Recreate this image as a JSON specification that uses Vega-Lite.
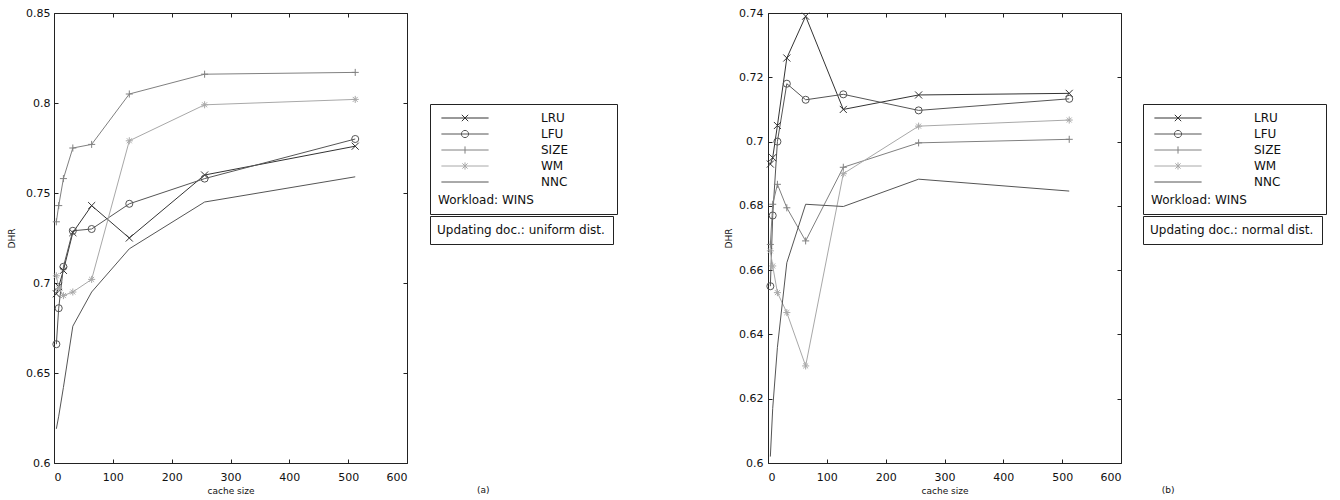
{
  "$schema": "https://vega.github.io/schema/vega-lite/v6.json",
  "padding": {"left": 7, "top": 6, "right": 5, "bottom": 2},
  "background": "white",
  "spacing": 361,
  "bounds": "flush",
  "datasets": {
    "dhr": [
      {"panel": "a", "policy": "LRU", "cache": 4, "dhr": 0.694},
      {"panel": "a", "policy": "LRU", "cache": 8, "dhr": 0.698},
      {"panel": "a", "policy": "LRU", "cache": 16, "dhr": 0.707},
      {"panel": "a", "policy": "LRU", "cache": 32, "dhr": 0.728},
      {"panel": "a", "policy": "LRU", "cache": 64, "dhr": 0.743},
      {"panel": "a", "policy": "LRU", "cache": 128, "dhr": 0.725},
      {"panel": "a", "policy": "LRU", "cache": 256, "dhr": 0.760},
      {"panel": "a", "policy": "LRU", "cache": 512, "dhr": 0.776},
      {"panel": "a", "policy": "LFU", "cache": 4, "dhr": 0.666},
      {"panel": "a", "policy": "LFU", "cache": 8, "dhr": 0.686},
      {"panel": "a", "policy": "LFU", "cache": 16, "dhr": 0.709},
      {"panel": "a", "policy": "LFU", "cache": 32, "dhr": 0.729},
      {"panel": "a", "policy": "LFU", "cache": 64, "dhr": 0.730},
      {"panel": "a", "policy": "LFU", "cache": 128, "dhr": 0.744},
      {"panel": "a", "policy": "LFU", "cache": 256, "dhr": 0.758},
      {"panel": "a", "policy": "LFU", "cache": 512, "dhr": 0.780},
      {"panel": "a", "policy": "SIZE", "cache": 4, "dhr": 0.734},
      {"panel": "a", "policy": "SIZE", "cache": 8, "dhr": 0.743},
      {"panel": "a", "policy": "SIZE", "cache": 16, "dhr": 0.758},
      {"panel": "a", "policy": "SIZE", "cache": 32, "dhr": 0.775},
      {"panel": "a", "policy": "SIZE", "cache": 64, "dhr": 0.777},
      {"panel": "a", "policy": "SIZE", "cache": 128, "dhr": 0.805},
      {"panel": "a", "policy": "SIZE", "cache": 256, "dhr": 0.816},
      {"panel": "a", "policy": "SIZE", "cache": 512, "dhr": 0.817},
      {"panel": "a", "policy": "WM", "cache": 4, "dhr": 0.704},
      {"panel": "a", "policy": "WM", "cache": 8, "dhr": 0.697},
      {"panel": "a", "policy": "WM", "cache": 16, "dhr": 0.693},
      {"panel": "a", "policy": "WM", "cache": 32, "dhr": 0.695},
      {"panel": "a", "policy": "WM", "cache": 64, "dhr": 0.702},
      {"panel": "a", "policy": "WM", "cache": 128, "dhr": 0.779},
      {"panel": "a", "policy": "WM", "cache": 256, "dhr": 0.799},
      {"panel": "a", "policy": "WM", "cache": 512, "dhr": 0.802},
      {"panel": "a", "policy": "NNC", "cache": 4, "dhr": 0.619},
      {"panel": "a", "policy": "NNC", "cache": 8, "dhr": 0.626},
      {"panel": "a", "policy": "NNC", "cache": 16, "dhr": 0.642},
      {"panel": "a", "policy": "NNC", "cache": 32, "dhr": 0.676},
      {"panel": "a", "policy": "NNC", "cache": 64, "dhr": 0.695},
      {"panel": "a", "policy": "NNC", "cache": 128, "dhr": 0.719},
      {"panel": "a", "policy": "NNC", "cache": 256, "dhr": 0.745},
      {"panel": "a", "policy": "NNC", "cache": 512, "dhr": 0.759},
      {"panel": "b", "policy": "LRU", "cache": 4, "dhr": 0.693},
      {"panel": "b", "policy": "LRU", "cache": 8, "dhr": 0.695},
      {"panel": "b", "policy": "LRU", "cache": 16, "dhr": 0.705},
      {"panel": "b", "policy": "LRU", "cache": 32, "dhr": 0.726},
      {"panel": "b", "policy": "LRU", "cache": 64, "dhr": 0.739},
      {"panel": "b", "policy": "LRU", "cache": 128, "dhr": 0.710},
      {"panel": "b", "policy": "LRU", "cache": 256, "dhr": 0.7145},
      {"panel": "b", "policy": "LRU", "cache": 512, "dhr": 0.715},
      {"panel": "b", "policy": "LFU", "cache": 4, "dhr": 0.655},
      {"panel": "b", "policy": "LFU", "cache": 8, "dhr": 0.677},
      {"panel": "b", "policy": "LFU", "cache": 16, "dhr": 0.700},
      {"panel": "b", "policy": "LFU", "cache": 32, "dhr": 0.718},
      {"panel": "b", "policy": "LFU", "cache": 64, "dhr": 0.713},
      {"panel": "b", "policy": "LFU", "cache": 128, "dhr": 0.7147},
      {"panel": "b", "policy": "LFU", "cache": 256, "dhr": 0.7097},
      {"panel": "b", "policy": "LFU", "cache": 512, "dhr": 0.7133},
      {"panel": "b", "policy": "SIZE", "cache": 4, "dhr": 0.668},
      {"panel": "b", "policy": "SIZE", "cache": 8, "dhr": 0.6805},
      {"panel": "b", "policy": "SIZE", "cache": 16, "dhr": 0.6867},
      {"panel": "b", "policy": "SIZE", "cache": 32, "dhr": 0.6794},
      {"panel": "b", "policy": "SIZE", "cache": 64, "dhr": 0.6691},
      {"panel": "b", "policy": "SIZE", "cache": 128, "dhr": 0.692},
      {"panel": "b", "policy": "SIZE", "cache": 256, "dhr": 0.6996},
      {"panel": "b", "policy": "SIZE", "cache": 512, "dhr": 0.7007},
      {"panel": "b", "policy": "WM", "cache": 4, "dhr": 0.666},
      {"panel": "b", "policy": "WM", "cache": 8, "dhr": 0.6613},
      {"panel": "b", "policy": "WM", "cache": 16, "dhr": 0.653},
      {"panel": "b", "policy": "WM", "cache": 32, "dhr": 0.6468},
      {"panel": "b", "policy": "WM", "cache": 64, "dhr": 0.6302},
      {"panel": "b", "policy": "WM", "cache": 128, "dhr": 0.690},
      {"panel": "b", "policy": "WM", "cache": 256, "dhr": 0.7048},
      {"panel": "b", "policy": "WM", "cache": 512, "dhr": 0.7067},
      {"panel": "b", "policy": "NNC", "cache": 4, "dhr": 0.602},
      {"panel": "b", "policy": "NNC", "cache": 8, "dhr": 0.617},
      {"panel": "b", "policy": "NNC", "cache": 16, "dhr": 0.636},
      {"panel": "b", "policy": "NNC", "cache": 32, "dhr": 0.6623},
      {"panel": "b", "policy": "NNC", "cache": 64, "dhr": 0.6805},
      {"panel": "b", "policy": "NNC", "cache": 128, "dhr": 0.6798},
      {"panel": "b", "policy": "NNC", "cache": 256, "dhr": 0.6883},
      {"panel": "b", "policy": "NNC", "cache": 512, "dhr": 0.6846}
    ]
  },
  "config": {
    "view": {"stroke": "#222222", "strokeWidth": 1},
    "font": "DejaVu Sans",
    "axis": {
      "grid": false,
      "domain": false,
      "tickColor": "#222222",
      "tickSize": -4,
      "tickWidth": 1,
      "labelFont": "DejaVu Sans",
      "labelFontSize": 11,
      "labelColor": "#111111",
      "titleFont": "DejaVu Sans",
      "titleFontSize": 9,
      "titleFontWeight": "normal",
      "titleColor": "#111111"
    },
    "legend": {
      "labelFont": "DejaVu Sans",
      "labelFontSize": 12,
      "labelColor": "#111111",
      "labelLimit": 300,
      "titleFont": "DejaVu Sans",
      "titleFontSize": 12,
      "titleFontWeight": "normal",
      "titleColor": "#111111",
      "titleLimit": 300,
      "strokeColor": "#222222",
      "fillColor": "white"
    }
  },
  "hconcat": [
    {
      "width": 353,
      "height": 450,
      "data": {"name": "dhr"},
      "transform": [{"filter": "datum.panel == 'a'"}],
      "title": {"text": "(a)", "orient": "bottom", "anchor": "end", "offset": -9, "dx": -128, "fontSize": 9, "fontWeight": "normal", "font": "DejaVu Sans", "color": "#111111"},
      "layer": [
        {
          "mark": {"type": "line", "strokeWidth": 1},
          "encoding": {
            "x": {"field": "cache", "type": "quantitative", "scale": {"domain": [0, 600]},
                  "axis": {"orient": "bottom", "values": [0, 100, 200, 300, 400, 500, 600], "title": "cache size", "labelPadding": 12, "titlePadding": 4}},
            "y": {"field": "dhr", "type": "quantitative", "scale": {"domain": [0.6, 0.85]},
                  "axis": {"orient": "left", "values": [0.6, 0.65, 0.7, 0.75, 0.8, 0.85], "format": ".2~f", "title": "DHR", "labelPadding": 8, "titlePadding": 9}},
            "color": {"field": "policy", "type": "nominal",
                      "scale": {"domain": ["LRU", "LFU", "SIZE", "WM", "NNC"], "range": ["#333333", "#555555", "#808080", "#a8a8a8", "#555555"]},
                      "legend": null}
          }
        },
        {
          "mark": {"type": "point", "filled": false, "size": 50, "strokeWidth": 1, "opacity": 1},
          "transform": [{"filter": "datum.policy != 'NNC'"}],
          "encoding": {
            "x": {"field": "cache", "type": "quantitative", "scale": {"domain": [0, 600]},
                  "axis": {"orient": "top", "values": [0, 100, 200, 300, 400, 500, 600], "labels": false, "title": null}},
            "y": {"field": "dhr", "type": "quantitative", "scale": {"domain": [0.6, 0.85]},
                  "axis": {"orient": "right", "values": [0.6, 0.65, 0.7, 0.75, 0.8, 0.85], "labels": false, "title": null}},
            "color": {"field": "policy", "type": "nominal",
                      "scale": {"domain": ["LRU", "LFU", "SIZE", "WM", "NNC"], "range": ["#333333", "#555555", "#808080", "#a8a8a8", "#555555"]},
                      "legend": null},
            "shape": {"field": "policy", "type": "nominal",
                      "scale": {"domain": ["LRU", "LFU", "SIZE", "WM"], "range": ["M-1,-1L1,1M-1,1L1,-1", "circle", "M-1,0L1,0M0,-1L0,1", "M-1,0L1,0M0,-1L0,1M-0.7,-0.7L0.7,0.7M-0.7,0.7L0.7,-0.7"]},
                      "legend": null}
          }
        },
        {
          "mark": {"type": "point", "filled": false, "opacity": 1},
          "transform": [{"filter": "false"}],
          "encoding": {
            "shape": {"field": "policy", "type": "nominal",
                      "scale": {"domain": ["LRU", "LFU", "SIZE", "WM", "NNC"],
                                "range": ["M-5.9,0L5.9,0M-0.8,-0.8L0.8,0.8M-0.8,0.8L0.8,-0.8M35.3,0",
                                          "M-5.9,0L5.9,0M-0.9,0A0.9,0.9 0 1,1 0.9,0A0.9,0.9 0 1,1 -0.9,0M35.3,0",
                                          "M-5.9,0L5.9,0M0,-0.9L0,0.9M35.3,0",
                                          "M-5.9,0L5.9,0M0,-0.9L0,0.9M-0.65,-0.65L0.65,0.65M-0.65,0.65L0.65,-0.65M35.3,0",
                                          "M-5.9,0L5.9,0M35.3,0"]},
                      "legend": {
                        "orient": "none", "legendX": 376, "legendY": 91,
                        "title": "Workload: WINS",
                        "titleOrient": "bottom", "titleAnchor": "start", "titlePadding": 7,
                        "padding": 8, "rowPadding": 4,
                        "symbolSize": 64, "symbolOffset": 21, "labelOffset": 70,
                        "symbolStrokeWidth": 1, "symbolFillColor": "transparent",
                        "symbolStrokeColor": {"expr": "datum.value === 'LRU' ? '#333333' : datum.value === 'LFU' ? '#555555' : datum.value === 'SIZE' ? '#808080' : datum.value === 'WM' ? '#a8a8a8' : '#555555'"}
                      }}
          }
        },
        {
          "mark": {"type": "point", "filled": false, "opacity": 1},
          "transform": [{"filter": "false"}],
          "encoding": {
            "shape": {"field": "note", "type": "nominal",
                      "scale": {"domain": ["Updating doc.: uniform dist."], "range": ["circle"]},
                      "legend": {
                        "orient": "none", "legendX": 376, "legendY": 203,
                        "title": null, "padding": 8,
                        "symbolSize": 1, "symbolStrokeWidth": 0, "symbolOpacity": 0, "labelOffset": -13
                      }}
          }
        }
      ],
      "resolve": {"scale": {"shape": "independent"}, "axis": {"x": "independent", "y": "independent"}}
    },
    {
      "width": 353,
      "height": 450,
      "data": {"name": "dhr"},
      "transform": [{"filter": "datum.panel == 'b'"}],
      "title": {"text": "(b)", "orient": "bottom", "anchor": "end", "offset": -9, "dx": -152, "fontSize": 9, "fontWeight": "normal", "font": "DejaVu Sans", "color": "#111111"},
      "layer": [
        {
          "mark": {"type": "line", "strokeWidth": 1},
          "encoding": {
            "x": {"field": "cache", "type": "quantitative", "scale": {"domain": [0, 600]},
                  "axis": {"orient": "bottom", "values": [0, 100, 200, 300, 400, 500, 600], "title": "cache size", "labelPadding": 12, "titlePadding": 4}},
            "y": {"field": "dhr", "type": "quantitative", "scale": {"domain": [0.6, 0.74]},
                  "axis": {"orient": "left", "values": [0.6, 0.62, 0.64, 0.66, 0.68, 0.7, 0.72, 0.74], "format": ".2~f", "title": "DHR", "labelPadding": 9, "titlePadding": 5}},
            "color": {"field": "policy", "type": "nominal",
                      "scale": {"domain": ["LRU", "LFU", "SIZE", "WM", "NNC"], "range": ["#333333", "#555555", "#808080", "#a8a8a8", "#555555"]},
                      "legend": null}
          }
        },
        {
          "mark": {"type": "point", "filled": false, "size": 50, "strokeWidth": 1, "opacity": 1},
          "transform": [{"filter": "datum.policy != 'NNC'"}],
          "encoding": {
            "x": {"field": "cache", "type": "quantitative", "scale": {"domain": [0, 600]},
                  "axis": {"orient": "top", "values": [0, 100, 200, 300, 400, 500, 600], "labels": false, "title": null}},
            "y": {"field": "dhr", "type": "quantitative", "scale": {"domain": [0.6, 0.74]},
                  "axis": {"orient": "right", "values": [0.6, 0.62, 0.64, 0.66, 0.68, 0.7, 0.72, 0.74], "labels": false, "title": null}},
            "color": {"field": "policy", "type": "nominal",
                      "scale": {"domain": ["LRU", "LFU", "SIZE", "WM", "NNC"], "range": ["#333333", "#555555", "#808080", "#a8a8a8", "#555555"]},
                      "legend": null},
            "shape": {"field": "policy", "type": "nominal",
                      "scale": {"domain": ["LRU", "LFU", "SIZE", "WM"], "range": ["M-1,-1L1,1M-1,1L1,-1", "circle", "M-1,0L1,0M0,-1L0,1", "M-1,0L1,0M0,-1L0,1M-0.7,-0.7L0.7,0.7M-0.7,0.7L0.7,-0.7"]},
                      "legend": null}
          }
        },
        {
          "mark": {"type": "point", "filled": false, "opacity": 1},
          "transform": [{"filter": "false"}],
          "encoding": {
            "shape": {"field": "policy", "type": "nominal",
                      "scale": {"domain": ["LRU", "LFU", "SIZE", "WM", "NNC"],
                                "range": ["M-5.9,0L5.9,0M-0.8,-0.8L0.8,0.8M-0.8,0.8L0.8,-0.8M34.3,0",
                                          "M-5.9,0L5.9,0M-0.9,0A0.9,0.9 0 1,1 0.9,0A0.9,0.9 0 1,1 -0.9,0M34.3,0",
                                          "M-5.9,0L5.9,0M0,-0.9L0,0.9M34.3,0",
                                          "M-5.9,0L5.9,0M0,-0.9L0,0.9M-0.65,-0.65L0.65,0.65M-0.65,0.65L0.65,-0.65M34.3,0",
                                          "M-5.9,0L5.9,0M34.3,0"]},
                      "legend": {
                        "orient": "none", "legendX": 375, "legendY": 91,
                        "title": "Workload: WINS",
                        "titleOrient": "bottom", "titleAnchor": "start", "titlePadding": 7,
                        "padding": 8, "rowPadding": 4,
                        "symbolSize": 64, "symbolOffset": 21, "labelOffset": 70,
                        "symbolStrokeWidth": 1, "symbolFillColor": "transparent",
                        "symbolStrokeColor": {"expr": "datum.value === 'LRU' ? '#333333' : datum.value === 'LFU' ? '#555555' : datum.value === 'SIZE' ? '#808080' : datum.value === 'WM' ? '#a8a8a8' : '#555555'"}
                      }}
          }
        },
        {
          "mark": {"type": "point", "filled": false, "opacity": 1},
          "transform": [{"filter": "false"}],
          "encoding": {
            "shape": {"field": "note", "type": "nominal",
                      "scale": {"domain": ["Updating doc.: normal dist."], "range": ["circle"]},
                      "legend": {
                        "orient": "none", "legendX": 375, "legendY": 203,
                        "title": null, "padding": 8,
                        "symbolSize": 1, "symbolStrokeWidth": 0, "symbolOpacity": 0, "labelOffset": -13
                      }}
          }
        }
      ],
      "resolve": {"scale": {"shape": "independent"}, "axis": {"x": "independent", "y": "independent"}}
    }
  ]
}
